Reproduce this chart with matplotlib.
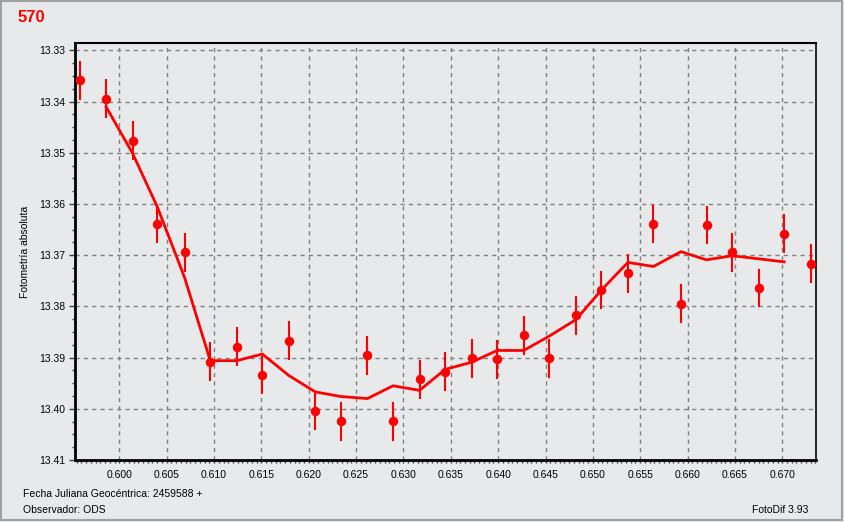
import matplotlib
matplotlib.use("Agg")
import matplotlib.pyplot as plt
from matplotlib.ticker import MultipleLocator
from matplotlib.patches import Rectangle

# fecha juliana (fraccion) y magnitud de cada medida
jd = [0.5958, 0.5986, 0.6014, 0.6040, 0.6069, 0.6096, 0.6124, 0.6151,
      0.6179, 0.6207, 0.6234, 0.6262, 0.6289, 0.6317, 0.6344, 0.6372,
      0.6399, 0.6427, 0.6454, 0.6482, 0.6509, 0.6537, 0.6564, 0.6593,
      0.6620, 0.6647, 0.6675, 0.6702, 0.6730]
mag = [13.3358, 13.3394, 13.3476, 13.3639, 13.3694, 13.3908, 13.3879, 13.3934,
       13.3867, 13.4004, 13.4024, 13.3895, 13.4024, 13.3942, 13.3928, 13.3901,
       13.3903, 13.3856, 13.3901, 13.3817, 13.3768, 13.3735, 13.3639, 13.3795,
       13.3641, 13.3694, 13.3764, 13.3658, 13.3717]
err = [0.0038] * len(jd)

# curva media (desde la 2a hasta la penultima medida)
curve = [13.3410, 13.3501, 13.3605, 13.3744, 13.3906, 13.3906, 13.3893,
         13.3935, 13.3967, 13.3976, 13.3980, 13.3955, 13.3964, 13.3923,
         13.3909, 13.3886, 13.3886, 13.3858, 13.3826, 13.3768, 13.3714,
         13.3722, 13.3693, 13.3709, 13.3701, 13.3707, 13.3713]
curve_x = jd[1:28]

bg = "#e8e9eb"
red = "#ff0000"
plt.rcParams["font.family"] = ["Liberation Sans", "DejaVu Sans"]

fig = plt.figure(figsize=(8.44, 5.22), dpi=100, facecolor=bg)
ax = fig.add_axes([75.3/844, 1-460/522, (815.7-75.3)/844, (460-43.3)/522])
ax.set_facecolor(bg)

ax.plot(curve_x, curve, color=red, lw=2, zorder=3)
ax.errorbar(jd, mag, yerr=err, fmt="o", color=red, ms=5.8, elinewidth=1.5,
            capsize=0, mec=red, zorder=4)

ax.set_xlim(0.59535, 0.67353)
ax.set_ylim(13.41, 13.3286)

ax.xaxis.set_major_locator(MultipleLocator(0.005))
ax.xaxis.set_minor_locator(MultipleLocator(0.0005))
ax.yaxis.set_major_locator(MultipleLocator(0.01))
ax.yaxis.set_minor_locator(MultipleLocator(0.0025))
ax.xaxis.set_major_formatter(lambda v, p: f"{v:.3f}")
ax.yaxis.set_major_formatter(lambda v, p: f"{v:.2f}")

ax.grid(True, which="major", color="#808080", ls=(0, (3, 3)), lw=1)
ax.tick_params(which="major", length=4, width=1, color="#404040",
               labelsize=7.5, pad=3)
ax.tick_params(axis="x", which="major", length=2, pad=5)
ax.tick_params(which="minor", length=2, width=1, color="#404040")

for s in ["left", "bottom"]:
    ax.spines[s].set_linewidth(2)
ax.spines["top"].set_linewidth(1.5)
ax.spines["right"].set_linewidth(1.2)

ax.set_ylabel("Fotometría absoluta", fontsize=7.5, labelpad=7)

fig.text(18/844, 1-18/522, "570", color=red, fontsize=12, fontweight="bold",
         va="center", ha="left")
fig.text(23/844, 1-494/522, "Fecha Juliana Geocéntrica: 2459588 +",
         fontsize=7.5, va="center")
fig.text(23/844, 1-510/522, "Observador: ODS", fontsize=7.5, va="center")
fig.text(808/844, 1-510/522, "FotoDif 3.93", fontsize=7.5, va="center",
         ha="right")

fig.patches.append(Rectangle((0.001, 0.003), 0.997, 0.995,
                             transform=fig.transFigure, fill=False,
                             edgecolor="#a0a0a0", lw=1.5))

fig.savefig("out.png", dpi=100, facecolor=bg)
